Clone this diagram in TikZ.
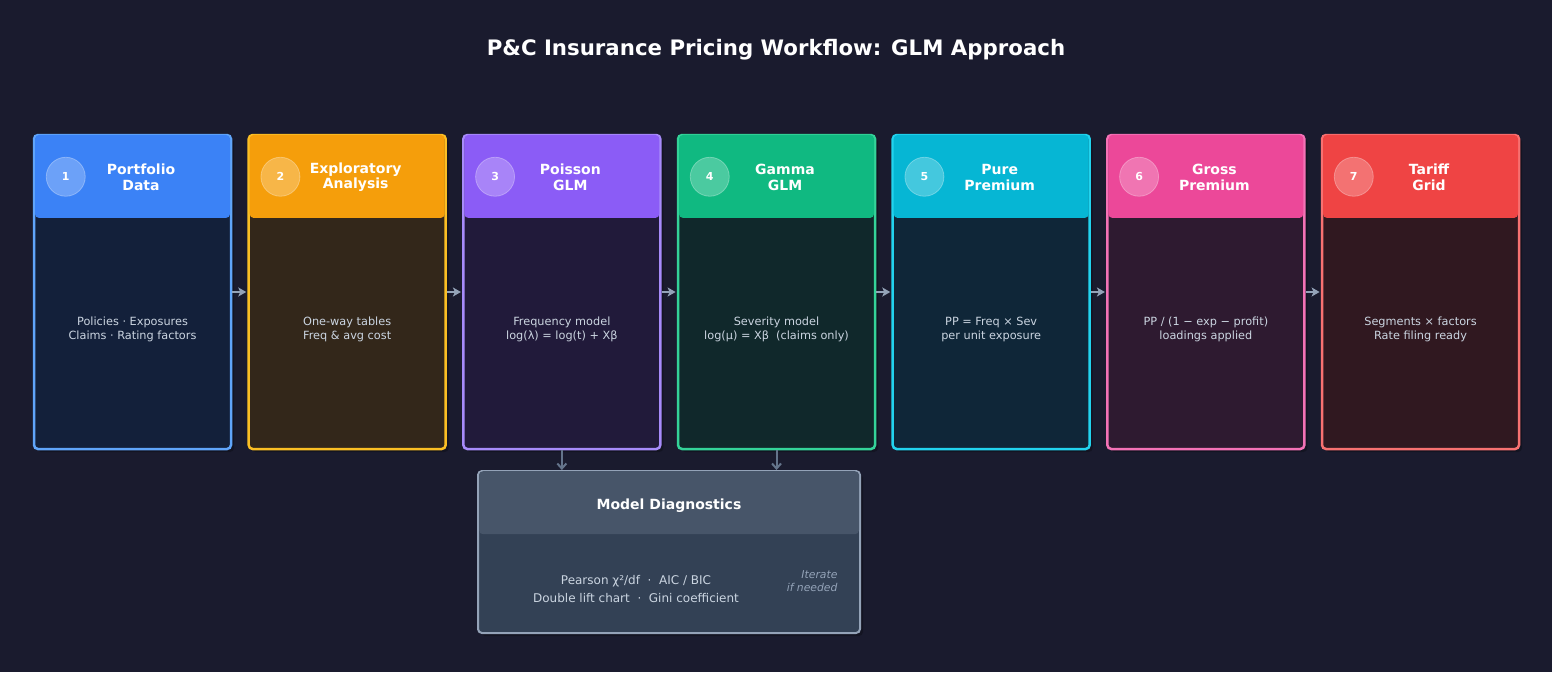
\documentclass[tikz,border=0pt]{standalone}
\usepackage{fontspec}
\setmainfont{DejaVu Sans}
\usetikzlibrary{arrows.meta,positioning,calc,shadows}
\definecolor{bgc}{HTML}{1A1B2E}
\definecolor{txtc}{HTML}{CBD5E1}
\definecolor{arrc}{HTML}{94A3B8}
\definecolor{darrc}{HTML}{64748B}
\definecolor{hdA}{HTML}{3B82F6}\definecolor{bdA}{HTML}{60A5FA}\definecolor{bgA}{HTML}{13203A}
\definecolor{hdB}{HTML}{F59E0B}\definecolor{bdB}{HTML}{FBBF24}\definecolor{bgB}{HTML}{33271A}
\definecolor{hdC}{HTML}{8B5CF6}\definecolor{bdC}{HTML}{A78BFA}\definecolor{bgC}{HTML}{211A3A}
\definecolor{hdD}{HTML}{10B981}\definecolor{bdD}{HTML}{34D399}\definecolor{bgD}{HTML}{10282B}
\definecolor{hdE}{HTML}{06B6D4}\definecolor{bdE}{HTML}{22D3EE}\definecolor{bgE}{HTML}{0F2638}
\definecolor{hdF}{HTML}{EC4899}\definecolor{bdF}{HTML}{F472B6}\definecolor{bgF}{HTML}{2E1A30}
\definecolor{hdG}{HTML}{EF4444}\definecolor{bdG}{HTML}{F87171}\definecolor{bgG}{HTML}{301820}
\definecolor{hdX}{HTML}{475569}\definecolor{bdX}{HTML}{94A3B8}\definecolor{bgX}{HTML}{334155}
\tikzset{
  card/.style={rectangle,rounded corners=4pt,line width=2.5pt,minimum width=197pt,minimum height=314pt,inner sep=0pt,
    general shadow={shadow xshift=3pt,shadow yshift=-3pt,fill=black,opacity=0.25}},
  cardhead/.style={rectangle,rounded corners=4pt,minimum width=195pt,minimum height=83pt,inner sep=0pt,anchor=north},
  badge/.style={circle,minimum size=39pt,inner sep=0pt,fill=white,fill opacity=0.25,draw=white,draw opacity=0.3,line width=0.8pt,
    text opacity=1,text=white,font=\fontsize{11}{13}\selectfont\bfseries},
  cardtitle/.style={text=white,align=center,font=\fontsize{14}{15.5}\selectfont\bfseries},
  cardbody/.style={text=txtc,align=center,font=\fontsize{11.3}{14}\selectfont},
  flow/.style={draw=arrc,line width=2.5pt,-{Stealth[length=8pt,width=9pt,inset=2pt]}},
  dflow/.style={draw=darrc,line width=2pt,-{Straight Barb[length=5pt,width=9pt]}}
}
\begin{document}
\begin{tikzpicture}[x=1pt,y=-1pt]
\fill[bgc] (0,0) rectangle (1552,672);
\useasboundingbox (0,0) rectangle (1552,672);
\node[text=white,font=\fontsize{21.3}{25}\selectfont\bfseries] (title) at (776,50) {P\&C Insurance Pricing Workflow: GLM Approach};
% pipeline cards
\foreach \i/\c/\t/\b in {1/A/{Portfolio\\Data}/{Policies · Exposures\\Claims · Rating factors},
  2/B/{Exploratory\\Analysis}/{One-way tables\\Freq \& avg cost},
  3/C/{Poisson\\GLM}/{Frequency model\\log(λ) = log(t) + Xβ},
  4/D/{Gamma\\GLM}/{Severity model\\log(μ) = Xβ~~(claims only)},
  5/E/{Pure\\Premium}/{PP = Freq × Sev\\per unit exposure},
  6/F/{Gross\\Premium}/{PP / (1 − exp − profit)\\loadings applied},
  7/G/{Tariff\\Grid}/{Segments × factors\\Rate filing ready}}{
  \node[card,fill=bg\c,draw=bd\c] (c\i) at ({132.5+214.67*(\i-1)},292) {};
  \node[cardhead,fill=hd\c] (h\i) at ($(c\i.north)+(0,1)$) {};
  \node[badge] (n\i) at ($(c\i.north west)+(33,43)$) {\i};
  \node[cardtitle] (t\i) at ($(c\i.north)+(8.5,43.5)$) {\t};
  \node[cardbody] (b\i) at ($(c\i.center)+(0,37)$) {\b};
}
% arrows between cards
\foreach \i in {1,...,6}{
  \draw[flow] (c\i.east) -- ++(14,0);
}
% diagnostics box
\node[card,minimum width=382pt,minimum height=162pt,fill=bgX,draw=bdX,line width=2pt] (diag) at (669,552) {};
\node[cardhead,minimum width=380pt,minimum height=63pt,fill=hdX] (dh) at ($(diag.north)+(0,1)$) {};
\node[text=white,font=\fontsize{14}{17}\selectfont\bfseries] (dt) at (669,505.5) {Model Diagnostics};
\node[text=txtc,align=center,font=\fontsize{12}{18}\selectfont] (db) at (636,589) {Pearson χ²/df~~·~~AIC / BIC\\Double lift chart~~·~~Gini coefficient};
\node[text=arrc,align=right,anchor=east,font=\fontsize{10.8}{13}\selectfont\itshape] (it) at (841,581) {Iterate\\if needed};
\draw[dflow] (c3.south) -- (c3.south |- diag.north);
\draw[dflow] (c4.south) -- (c4.south |- diag.north);
\end{tikzpicture}
\end{document}
